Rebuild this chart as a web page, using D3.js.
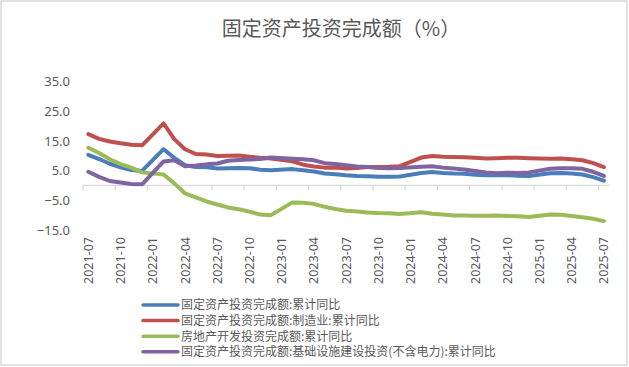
<!DOCTYPE html>
<html>
<head>
  <meta charset="UTF-8">
  <style>
    body { margin: 0; background: #fff; }
    svg { display: block; }
    text { fill: #595959; }
  </style>
</head>
<body>
  <svg id="chart"></svg>
  <script src="https://d3js.org/d3.v7.min.js"></script>
  <script>
    let width = 629, height = 367;

    // months (January has no release, so null values there)
    const months = [
      "2021-07","2021-08","2021-09","2021-10","2021-11","2021-12",
      "2022-01","2022-02","2022-03","2022-04","2022-05","2022-06","2022-07","2022-08","2022-09","2022-10","2022-11","2022-12",
      "2023-01","2023-02","2023-03","2023-04","2023-05","2023-06","2023-07","2023-08","2023-09","2023-10","2023-11","2023-12",
      "2024-01","2024-02","2024-03","2024-04","2024-05","2024-06","2024-07","2024-08","2024-09","2024-10","2024-11","2024-12",
      "2025-01","2025-02","2025-03","2025-04","2025-05","2025-06","2025-07"
    ];

    const faiTotal = [
      10.3, 8.9, 7.3, 6.1, 5.2, 4.9,
      null, 12.2, 9.3, 6.8, 6.2, 6.1, 5.7, 5.8, 5.9, 5.8, 5.3, 5.1,
      null, 5.5, 5.1, 4.7, 4.0, 3.8, 3.4, 3.2, 3.1, 2.9, 2.9, 3.0,
      null, 4.2, 4.5, 4.2, 4.0, 3.9, 3.6, 3.4, 3.4, 3.4, 3.3, 3.2,
      null, 4.1, 4.2, 4.0, 3.7, 2.8, 1.6
    ];
    const faiManufacturing = [
      17.3, 15.7, 14.8, 14.2, 13.7, 13.5,
      null, 20.9, 15.6, 12.2, 10.6, 10.4, 9.9, 10.0, 10.1, 9.7, 9.3, 9.1,
      null, 8.1, 7.0, 6.4, 6.0, 6.0, 5.7, 5.9, 6.2, 6.2, 6.3, 6.5,
      null, 9.4, 9.9, 9.7, 9.6, 9.5, 9.3, 9.1, 9.2, 9.3, 9.3, 9.2,
      null, 9.0, 9.1, 8.8, 8.5, 7.5, 6.2
    ];
    const realEstate = [
      12.7, 10.9, 8.8, 7.2, 6.0, 4.4,
      null, 3.7, 0.7, -2.7, -4.0, -5.4, -6.4, -7.4, -8.0, -8.8, -9.8, -10.0,
      null, -5.7, -5.8, -6.2, -7.2, -7.9, -8.5, -8.8, -9.1, -9.3, -9.4, -9.6,
      null, -9.0, -9.5, -9.8, -10.1, -10.1, -10.2, -10.2, -10.1, -10.3, -10.4, -10.6,
      null, -9.8, -9.9, -10.3, -10.7, -11.2, -12.0
    ];
    const infrastructure = [
      4.6, 2.9, 1.5, 1.0, 0.5, 0.4,
      null, 8.1, 8.5, 6.5, 6.7, 7.1, 7.4, 8.3, 8.6, 8.7, 8.9, 9.4,
      null, 9.0, 8.8, 8.5, 7.5, 7.2, 6.8, 6.4, 6.2, 5.9, 5.8, 5.9,
      null, 6.3, 6.5, 6.0, 5.7, 5.4, 4.9, 4.4, 4.1, 4.3, 4.2, 4.4,
      null, 5.6, 5.8, 5.8, 5.6, 4.6, 3.2
    ];

    const seriesNames = [
      "固定资产投资完成额:累计同比",
      "固定资产投资完成额:制造业:累计同比",
      "房地产开发投资完成额:累计同比",
      "固定资产投资完成额:基础设施建设投资(不含电力):累计同比"
    ];
    const seriesValues = [faiTotal, faiManufacturing, realEstate, infrastructure];
    const seriesColors = ["#4a7ebb", "#c0504d", "#9bbb59", "#8064a2"];

    const yTicks = [-15, -5, 5, 15, 25, 35];

    let svg = d3.select("#chart")
      .attr("width", width)
      .attr("height", height);

    // chart frame
    svg.append("rect")
      .attr("x", 1).attr("y", 1)
      .attr("width", width - 3).attr("height", height - 3)
      .attr("fill", "#fff")
      .attr("stroke", "#d9d9d9")
      .attr("stroke-width", 1.5);

    svg.append("text")
      .attr("x", 341)
      .attr("y", 36)
      .attr("text-anchor", "middle")
      .style("font-family", "'Noto Sans CJK SC', sans-serif")
      .style("font-size", "20px")
      .text("固定资产投资完成额（%）");

    let x = d3.scaleBand().domain(months).range([83, 609.3]);
    let y = d3.scaleLinear().domain([-15, 35]).range([230, 81.5]);

    // y axis labels
    let yAxis = svg.append("g")
      .attr("transform", "translate(70,0)")
      .call(d3.axisLeft(y).tickValues(yTicks).tickSize(0).tickPadding(0).tickFormat(d3.format(".1f")));
    yAxis.select(".domain").remove();
    yAxis.selectAll("text")
      .style("font-family", "'Noto Sans', sans-serif")
      .style("font-size", "13px")
      .attr("fill", "#595959");

    // horizontal axis line at zero with tick marks between categories
    let tickMonths = months.filter((d, i) => i % 3 === 0);
    svg.append("line")
      .attr("x1", x.range()[0]).attr("x2", x.range()[1])
      .attr("y1", y(0)).attr("y2", y(0))
      .attr("stroke", "#d9d9d9")
      .attr("stroke-width", 1.3);
    svg.selectAll(".xtick")
      .data(tickMonths)
      .enter()
      .append("line")
      .attr("class", "xtick")
      .attr("x1", d => x(d)).attr("x2", d => x(d))
      .attr("y1", y(0)).attr("y2", y(0) + 5)
      .attr("stroke", "#d9d9d9")
      .attr("stroke-width", 1.3);

    // category labels, rotated, below the plot
    let xAxis = svg.append("g")
      .attr("transform", "translate(0,237)")
      .call(d3.axisBottom(x).tickValues(tickMonths).tickSize(0));
    xAxis.select(".domain").remove();
    xAxis.selectAll("text")
      .attr("transform", "rotate(-90)")
      .attr("x", 0)
      .attr("y", 0)
      .attr("dy", "0.36em")
      .attr("text-anchor", "end")
      .style("font-family", "'Noto Sans', sans-serif")
      .style("font-size", "12.5px")
      .attr("fill", "#595959");

    // series lines (gaps in January are bridged)
    let line = d3.line()
      .x(d => x(d.m) + x.bandwidth() / 2)
      .y(d => y(d.v));

    seriesValues.forEach((vals, k) => {
      let pts = months.map((m, i) => ({ m: m, v: vals[i] })).filter(d => d.v !== null);
      svg.append("path")
        .datum(pts)
        .attr("d", line)
        .attr("fill", "none")
        .attr("stroke", seriesColors[k])
        .attr("stroke-width", 4)
        .attr("stroke-linejoin", "round")
        .attr("stroke-linecap", "round");
    });

    // legend
    let legend = svg.append("g").selectAll("g")
      .data(seriesNames)
      .enter()
      .append("g")
      .attr("transform", (d, i) => "translate(143," + (305 + i * 15.6) + ")");
    legend.append("line")
      .attr("x1", 0).attr("x2", 35)
      .attr("stroke", (d, i) => seriesColors[i])
      .attr("stroke-width", 3.5)
      .attr("stroke-linecap", "round");
    legend.append("text")
      .attr("x", 38)
      .attr("dy", "0.36em")
      .style("font-family", "'Noto Sans CJK SC', sans-serif")
      .style("font-size", "12px")
      .text(d => d);
  </script>
</body>
</html>
